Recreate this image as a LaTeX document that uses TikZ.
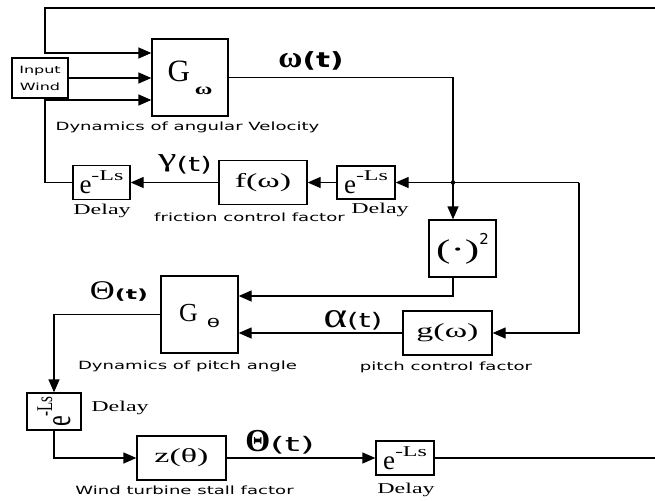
\documentclass[tikz,border=0pt]{standalone}
\usepackage{fontspec}
\usepackage{graphicx}
\setmainfont{Liberation Serif}
\newfontfamily\sff{DejaVu Sans}
\usetikzlibrary{arrows.meta,calc}
\newcommand\fs[1]{\fontsize{#1}{#1}\selectfont}
\newcommand\hs[2]{\scalebox{#1}[1]{#2}}
\newcommand\eLs{{\fs{27}e}\raisebox{13pt}{\fs{15}\hs{1.6}{-Ls}}}
\newcommand\eLsV{\hs{1.5}{\rotatebox{90}{{\fs{24}e}\raisebox{12pt}{\fs{15}-Ls}}}}
\begin{document}
\begin{tikzpicture}[x=1pt,y=-1pt,
  blk/.style={draw,line width=1.3pt,inner sep=0pt,fill=white},
  wire/.style={line width=1.3pt},
  arr/.style={wire,-{Triangle[length=13pt,width=11pt]}},
  slab/.style={font=\sff\fs{11.3},inner sep=0pt},
  dlab/.style={font=\fs{15},inner sep=0pt},
  glab/.style={inner sep=0pt}]
\fill[white] (0,0) rectangle (655,500);
\useasboundingbox (0,0) rectangle (655,500);

% blocks
\node[blk,minimum width=56pt,minimum height=40pt,align=center,font=\sff\fontsize{10}{17}\selectfont] (IW) at (40,78) {\hs{1.6}{Input}\\\hs{1.6}{Wind}};
\node[blk,minimum width=76pt,minimum height=77pt] (Gw) at (190,77.5) {{\fs{31}G}\hspace{5pt}\raisebox{-13pt}{\bfseries\fs{16}\hs{1.5}{ω}}};
\node[blk,minimum width=57pt,minimum height=34pt] (D1) at (101.5,182.5) {\eLs};
\node[blk,minimum width=88pt,minimum height=44pt] (F) at (263,182.5) {\fs{20}\hs{1.7}{f(ω)}};
\node[blk,minimum width=58pt,minimum height=33pt] (D2) at (366,182.5) {\eLs};
\node[blk,minimum width=67pt,minimum height=57pt] (Sq) at (462.5,248.5) {\hs{1.6}{\fs{27}(·)}\raisebox{14pt}{\sff\fs{15}2}};
\node[blk,minimum width=77pt,minimum height=77pt] (Gt) at (199.5,314.5) {\rule{0pt}{20pt}{\fs{26}G}\hspace{9pt}\raisebox{-6pt}{\sff\fs{12}\hs{1.8}{θ}}};
\node[blk,minimum width=89pt,minimum height=44pt] (Gg) at (447.5,333) {\fs{20}\hs{1.7}{g(ω)}};
\node[blk,minimum width=54pt,minimum height=37pt] (D3) at (54,411.5) {\eLsV};
\node[blk,minimum width=89pt,minimum height=44pt] (Z) at (181.5,458) {\fs{20}\hs{1.7}{z(θ)}};
\node[blk,minimum width=58pt,minimum height=34pt] (D4) at (405,458) {\eLs};

% free ends and bends
\coordinate (TR) at (655,8);
\coordinate (TL) at (45,8);
\coordinate (R) at (579,182.5);
\coordinate (BR) at (655,458);

% connectors
\draw[arr] (TR) -- (TL) |- ([yshift=24.5pt]Gw.west);
\draw[arr] (IW.east) -- (IW.east -| Gw.west);
\draw[arr] (D1.west) -| ([yshift=-22.5pt]Gw.west -| TL) -- ([yshift=-22.5pt]Gw.west);
\draw[arr] (Gw.east) -| ([xshift=-9.5pt]Sq.north);
\coordinate (J) at ([xshift=-9.5pt]Sq.north |- D2.east);
\fill (J) circle (2.2pt);
\draw[arr] (R) -- (D2.east);
\draw[arr] (R) |- (Gg.east);
\draw[arr] (D2.west) -- (F.east);
\draw[arr] (F.west) -- (D1.east);
\draw[arr] ([xshift=-9.5pt]Sq.south) |- ([yshift=18.5pt]Gt.east);
\draw[arr] (Gg.west) -- (Gg.west -| Gt.east);
\draw[arr] (Gt.west) -| (D3.north);
\draw[arr] (D3.south) |- (Z.west);
\draw[arr] (Z.east) -- (D4.west);
\draw[wire] (D4.east) -- (BR);

% labels
\node[slab] (Lgw) at (187.5,127) {\hs{1.6}{Dynamics of angular Velocity}};
\node[slab] (Lf) at (249.5,217) {\hs{1.6}{friction control factor}};
\node[slab] (Lgt) at (187.5,366) {\hs{1.6}{Dynamics of pitch angle}};
\node[slab] (Lg) at (446,367) {\hs{1.6}{pitch control factor}};
\node[slab] (Lz) at (184.5,490) {\hs{1.6}{Wind turbine stall factor}};
\node[dlab] (Ld1) at (102,211) {\hs{1.6}{Delay}};
\node[dlab] (Ld2) at (380,210) {\hs{1.6}{Delay}};
\node[dlab] (Ld3) at (120,408) {\hs{1.6}{Delay}};
\node[dlab] (Ld4) at (406,490) {\hs{1.6}{Delay}};

\node[glab] (Lw) at (311,61) {{\bfseries\fs{30}\hs{1.1}{ω}}{\sff\bfseries\fs{21}\hs{1.4}{(t)}}};
\node[glab] (Lgam) at (185,164) {\raisebox{5pt}{\fs{26}\hs{1.6}{γ}}{\sff\fs{20}\hs{1.5}{(t)}}};
\node[glab] (Lal) at (353,320) {{\fs{36}\hs{1.25}{α}}{\sff\fs{20}\hs{1.5}{(t)}}};
\node[glab] (LTh1) at (119,291) {{\fs{27}\hs{1.28}{Θ}}{\sff\bfseries\fs{14}\hs{1.7}{(t)}}};
\node[glab] (LTh2) at (280,442) {{\bfseries\fs{32}Θ}{\sff\fs{20}\hs{1.9}{(t)}}};
\end{tikzpicture}
\end{document}
